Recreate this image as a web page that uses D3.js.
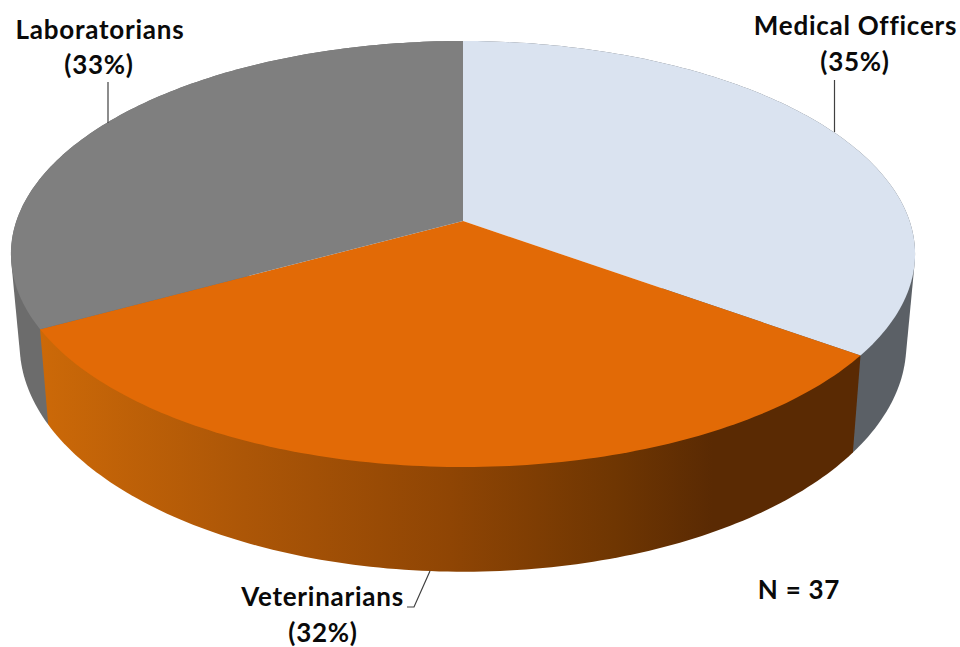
<!DOCTYPE html>
<html><head><meta charset="utf-8">
<script src="https://cdn.jsdelivr.net/npm/d3@7"></script>
<style>html,body{margin:0;background:#fff}svg{display:block}
text{font-family:Lato,"Open Sans",sans-serif;font-weight:700;fill:#0a0a0a;font-size:26px;letter-spacing:.75px;text-anchor:middle}</style>
</head><body><svg id="c" width="960" height="647"></svg>
<script>
const categories = ["Medical Officers", "Veterinarians", "Laboratorians"];
const percents = [35, 32, 33];
const faceColors = ["#dae3f0", "#e26a06", "#7f7f7f"];
const wallColors = ["#5b6066", "url(#wallOrange)", "#6c6c6c"];
const sampleSize = "N = 37";

const svg = d3.select("#c");
const defs = svg.append("defs");
const grad = defs.append("linearGradient").attr("id","wallOrange")
  .attr("gradientUnits","userSpaceOnUse").attr("x1",40).attr("x2",860).attr("y1",0).attr("y2",0);
[[0,"#cc6908"],[0.25,"#ac5607"],[0.5,"#8f4504"],[0.7,"#6f3602"],[0.82,"#5a2a03"],[1,"#5a2a03"]]
  .forEach(([o,c])=>grad.append("stop").attr("offset",o).attr("stop-color",c));

const arcs = d3.pie().sort(null).value(d=>d)(percents);

// perspective projection of the pie's unit circle onto the page
const k = 0.155;
const topPlane = {cx:463, cy:221, bx:446.6, by:207.9};
const basePlane = {cx:463, cy:309, bx:438, by:222};
const project = (plane,a)=>{
  const x=Math.sin(a), y=-Math.cos(a), w=1-k*y;
  return [plane.cx+plane.bx*x/w, plane.cy+plane.by*y/w];
};
const rim = (plane,a0,a1)=>d3.range(0,121).map(i=>project(plane,a0+(a1-a0)*i/120));
const line = d3.line();

// side walls: the hull of both rims, front slice painted last
const wallOrder = [0,2,1];
svg.append("g").selectAll("path").data(wallOrder).join("path")
  .attr("d",i=>{
    const d=arcs[i];
    return line(d3.polygonHull([...rim(topPlane,d.startAngle,d.endAngle),
                                ...rim(basePlane,d.startAngle,d.endAngle)]))+"Z";
  })
  .attr("fill",i=>wallColors[i]);

// faces
svg.append("g").selectAll("path").data(arcs).join("path")
  .attr("d",d=>line([[topPlane.cx,topPlane.cy],...rim(topPlane,d.startAngle,d.endAngle)])+"Z")
  .attr("fill",(d,i)=>faceColors[i]);

// leader lines
const leaders = [
  [[834.5,80],[834.5,132]],
  [[430,571],[414,607],[407,607]],
  [[108,82],[108,123]]
];
svg.append("g").selectAll("path").data(leaders).join("path")
  .attr("d",line).attr("fill","none").attr("stroke","#404040").attr("stroke-width",1.2);

// labels
const labelPos = [[855.5,35,71],[322.5,606,642],[100,38.5,74]];
const pctX = [855,323,99];
const g = svg.append("g");
categories.forEach((c,i)=>{
  const [x,y1,y2]=labelPos[i];
  g.append("text").attr("x",x).attr("y",y1).text(c);
  g.append("text").attr("x",pctX[i]).attr("y",y2).text(`(${percents[i]}%)`);
});
g.append("text").attr("x",799).attr("y",599).text(sampleSize);
</script></body></html>
